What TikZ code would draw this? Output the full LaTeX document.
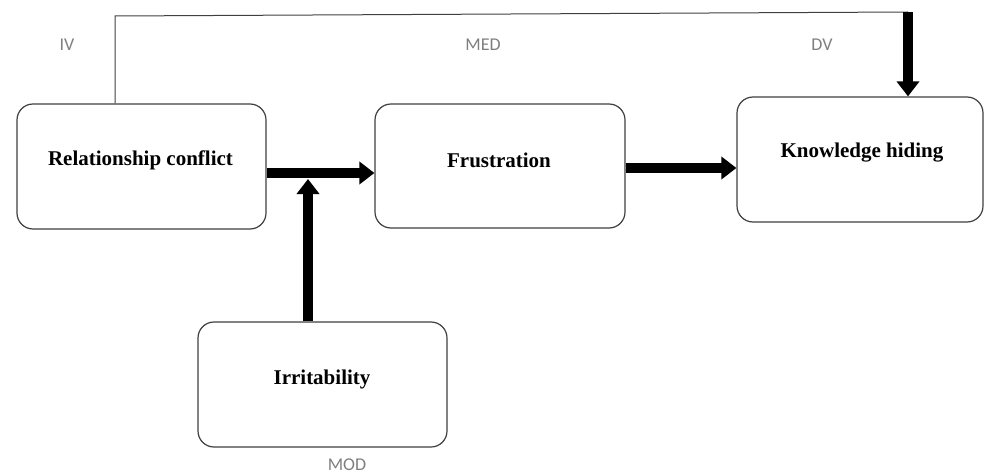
\documentclass[tikz,border=0pt]{standalone}
\usepackage{fontspec}
\setmainfont{Liberation Serif}
\newfontfamily\lblfont{Carlito}
\usetikzlibrary{arrows.meta}
\definecolor{lblgray}{HTML}{7F7F7F}
\definecolor{boxline}{HTML}{404040}
\tikzset{
  varbox/.style={draw=boxline, line width=1.2pt, rounded corners=16pt, fill=white, inner sep=0pt},
  boxtext/.style={font=\bfseries\fontsize{21}{24}\selectfont, inner sep=0pt},
  tag/.style={font=\lblfont\fontsize{18}{20}\selectfont, text=lblgray, inner sep=0pt},
  bigarrow/.style={line width=10pt, -{Triangle[width=22pt,length=15pt]}},
  thinline/.style={draw=boxline, line width=1pt}
}
\begin{document}
\begin{tikzpicture}[x=1pt,y=-1pt]
\useasboundingbox (0,0) rectangle (984,473);
% boxes
\node[varbox, minimum width=249pt, minimum height=125pt] (rc) at (141.5,166.5) {};
\node[varbox, minimum width=250pt, minimum height=124pt] (fr) at (500,166) {};
\node[varbox, minimum width=246pt, minimum height=125pt] (kh) at (860,159.5) {};
\node[varbox, minimum width=249pt, minimum height=125pt] (ir) at (322.5,384.5) {};
% texts
\node[boxtext] (rct) at (140.5,160) {Relationship conflict};
\node[boxtext] (frt) at (499,160) {Frustration};
\node[boxtext] (kht) at (862,153) {Knowledge hiding};
\node[boxtext] (irt) at (322,379) {Irritability};
% tags
\node[tag] (iv) at (67,45) {IV};
\node[tag] (med) at (483,45) {MED};
\node[tag] (dv) at (822,45) {DV};
\node[tag, anchor=base] (mod) at (347,470) {MOD};
% helper coordinates
\coordinate (tl) at (115,16);
\coordinate (tr) at (908,12);
\coordinate (j) at (308,179);
% connectors
\draw[thinline] (rc.north -| tl) -- (tl) -- (tr);
\draw[bigarrow] (tr) -- (kh.north -| tr);
\draw[bigarrow] ([yshift=-6.5pt]rc.east) -- ([yshift=-6.5pt]rc.east -| fr.west);
\draw[bigarrow] ([yshift=-2pt]fr.east) -- ([yshift=-2pt]fr.east -| kh.west);
\draw[bigarrow] (ir.north -| j) -- (j);
\end{tikzpicture}
\end{document}
